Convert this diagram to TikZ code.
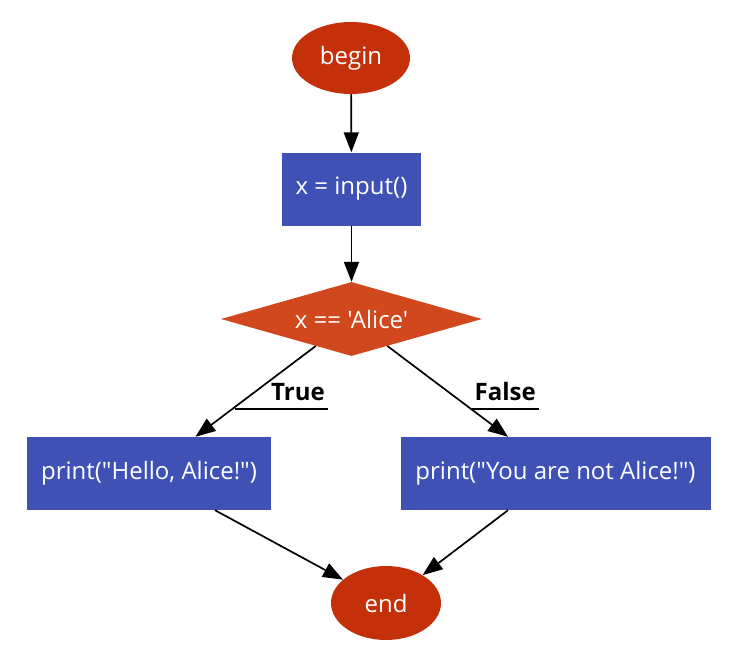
\documentclass[tikz,border=0pt]{standalone}
\usepackage{fontspec}
\setmainfont{Open Sans}[Ligatures=TeXOff]
\usetikzlibrary{shapes.geometric,arrows.meta,calc}
\definecolor{termred}{RGB}{196,48,10}
\definecolor{condred}{RGB}{210,72,30}
\definecolor{boxblue}{RGB}{63,81,181}
\begin{document}
\begin{tikzpicture}[x=1pt,y=-1pt,
  every node/.style={font=\fontsize{24}{28}\selectfont},
  term/.style={ellipse,fill=termred,text=white,inner sep=0pt},
  procbox/.style={rectangle,fill=boxblue,text=white,inner sep=0pt,minimum height=73pt},
  cond/.style={diamond,fill=condred,text=white,inner sep=0pt,aspect=3.5,minimum width=261pt,minimum height=74pt},
  flow/.style={black,line width=1.7pt,-{Triangle[length=20pt,width=15pt]}},
  lab/.style={font=\fontsize{24}{28}\selectfont\bfseries,text=black,inner sep=0pt,anchor=base east},
  uline/.style={black,line width=1.3pt}]
\useasboundingbox (0,0) rectangle (737,669);
\node[term,minimum width=118pt,minimum height=72pt] (begin) at (351,58) {begin};
\node[procbox,minimum width=139pt] (input) at (351.5,189) {x = input()};
\node[cond] (test) at (351.5,319) {x == 'Alice'};
\node[procbox,minimum width=244pt] (hello) at (149,473.5) {print("Hello, Alice!")};
\node[procbox,minimum width=310pt] (notalice) at (555.5,473.5) {print("You are not Alice!")};
\node[term,minimum width=110pt,minimum height=74pt] (end) at (386,603) {end};

\coordinate (hellotop) at ($(hello.north west)!0.69!(hello.north east)$);
\coordinate (nottop) at ($(notalice.north west)!0.347!(notalice.north east)$);
\coordinate (hellobot) at ($(hello.south west)!0.77!(hello.south east)$);
\coordinate (notbot) at ($(notalice.south west)!0.347!(notalice.south east)$);

\draw[flow] (begin) -- (input);
\draw[flow] (input) -- (test);
\draw[flow] (test) -- (hellotop);
\draw[flow] (test) -- (nottop);
\draw[flow] (hellobot) -- (end);
\draw[flow] (notbot) -- (end);

\node[lab] (truelab) at (325,400) {True};
\node[lab] (falselab) at (536,400) {False};
\coordinate (tu1) at (235,409);
\coordinate (tu2) at (328,409);
\coordinate (fu1) at (472,409);
\coordinate (fu2) at (539,409);
\draw[uline] (tu1) -- (tu2);
\draw[uline] (fu1) -- (fu2);
\end{tikzpicture}
\end{document}
